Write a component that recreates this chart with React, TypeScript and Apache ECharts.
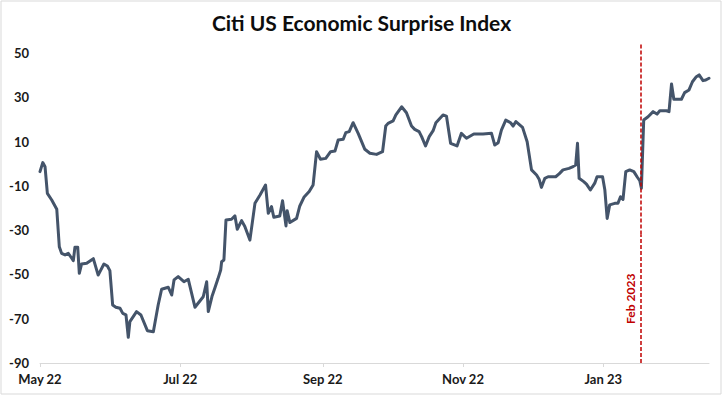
import React, { useEffect, useRef } from "react";
import * as echarts from "echarts";

// Day offsets from 1 May 2022 and index values
const dayOffsets = [
  0, 1.2, 2.2, 3.2, 5.1, 7.3, 8.4, 9.4, 10.9, 12.3,
  13.8, 14.5, 15.2, 16.4, 17.1, 18.1, 20.3, 23.2, 25.3, 27.8,
  29.3, 30.4, 31.6, 33.0, 34.8, 36.0, 37.4, 38.4, 39.1, 42.0,
  43.9, 46.7, 49.3, 51.4, 52.9, 55.8, 57.3, 58.3, 60.1, 62.6,
  64.5, 67.4, 71.0, 72.5, 73.2, 74.8, 76.1, 77.4, 78.6, 79.0,
  80.0, 80.9, 83.3, 84.8, 85.8, 87.7, 89.1, 91.3, 93.5, 95.7,
  98.1, 99.3, 100.7, 101.7, 104.3, 105.5, 107.0, 107.5, 108.7, 111.6,
  113.0, 114.8, 117.1, 118.8, 120.3, 122.0, 124.3, 126.4, 128.3, 129.7,
  131.9, 133.0, 134.5, 136.2, 138.4, 141.3, 143.5, 146.4, 149.0, 150.4,
  151.4, 153.6, 154.8, 157.3, 159.4, 161.6, 163.0, 164.9, 166.0, 167.7,
  169.3, 171.0, 172.2, 175.3, 176.8, 178.6, 181.4, 183.3, 185.5, 188.7,
  192.7, 196.4, 197.8, 199.3, 200.7, 202.6, 204.7, 205.8, 207.0, 209.9,
  211.9, 213.8, 216.0, 217.1, 218.1, 219.6, 221.0, 224.3, 225.8, 227.5,
  230.1, 231.9, 233.0, 233.8, 234.5, 236.5, 237.7, 239.4, 241.3, 242.3,
  244.7, 245.7, 246.7, 247.8, 250.0, 251.4, 252.5, 253.6, 254.8, 256.5,
  258.3, 259.7, 260.9, 261.6, 262.6, 264.5, 266.7, 268.4, 269.6, 272.5,
  273.6, 274.7, 275.7, 279.0, 280.4, 282.3, 283.8, 285.5, 286.7, 288.4,
  289.6, 291.0,
];

const esiValues = [
  -3.6, 0.5, -1.4, -13.4, -16.4, -20.6, -37.5, -40.5, -41.2, -40.5,
  -42.7, -43.8, -37.7, -37.7, -49.5, -45.3, -45.0, -42.9, -50.3, -45.3,
  -46.2, -48.3, -63.8, -64.8, -65.3, -67.6, -68.3, -78.4, -71.3, -66.8,
  -68.3, -75.4, -75.9, -63.8, -56.7, -55.8, -59.3, -52.5, -51.0, -53.3,
  -52.2, -64.8, -60.1, -53.3, -66.8, -60, -56, -52, -48.0, -44.3,
  -43.5, -25.4, -25.1, -23.6, -29.6, -25.7, -28.4, -34.5, -17.9, -14.1,
  -9.6, -22.4, -19.4, -24.2, -23.6, -16.7, -28.1, -21.2, -26.6, -24.7,
  -19.1, -15.2, -12.6, -9.6, 5.4, 2.0, 2.4, 5.4, 5.7, 10.7,
  11.0, 14.0, 14.5, 18.5, 13.7, 6.5, 4.7, 4.2, 5.4, 17.0,
  18.2, 19.3, 22.0, 25.7, 23.0, 17.0, 15.5, 14.5, 12.2, 8.0,
  12.2, 14.9, 18.5, 22.0, 21.5, 9.2, 8.0, 13.7, 11.5, 13.4,
  13.4, 13.7, 8.4, 9.5, 15.2, 19.7, 18.5, 17.0, 19.0, 16.4,
  9.9, -2.8, -5.1, -7.0, -10.7, -6.6, -5.9, -5.9, -4.6, -2.8,
  -2.1, -1.3, -0.6, 9.2, -6.6, -8.1, -9.2, -11.9, -8.8, -5.9,
  -5.9, -11.9, -24.7, -18.6, -17.9, -17.9, -14.9, -16.1, -3.6, -2.8,
  -3.6, -5.9, -7.7, -11.1, 19.7, 21.2, 23.5, 22.4, 23.9, 23.9,
  23.5, 36.0, 29.1, 29.1, 32.1, 33.3, 37.0, 39.3, 40.1, 37.5,
  37.8, 38.6,
];

const xTickDays = [0, 61, 123, 184, 245];
const xTickLabels = ["May 22", "Jul 22", "Sep 22", "Nov 22", "Jan 23"];
const yTickValues = [-90, -70, -50, -30, -10, 10, 30, 50];
const yMin = -90;
const yMax = 54.5;
const markerDay = 261.2;
const markerLabel = "Feb 2023";
const markerSplit = -32;
const markerTop = 54.5;

const FONT = "Lato, 'Open Sans', sans-serif";

export default function App() {
  const ref = useRef<HTMLDivElement>(null);

  useEffect(() => {
    if (!ref.current) return;
    const chart = echarts.init(ref.current, null, { renderer: "svg" });
    const seriesData = dayOffsets.map((d, i) => [d, esiValues[i]]);
    const labelMap: Record<number, string> = {};
    xTickDays.forEach((d, i) => (labelMap[d] = xTickLabels[i]));

    chart.setOption({
      animation: false,
      backgroundColor: "#ffffff",
      title: {
        text: "Citi US Economic Surprise Index",
        left: "center",
        top: 7,
        textStyle: {
          fontFamily: FONT,
          fontSize: 21,
          fontWeight: "bold",
          color: "#0d0d0d",
        },
      },
      graphic: [
        {
          type: "rect",
          shape: { x: 1, y: 1, width: 720, height: 393 },
          style: { fill: "none", stroke: "#d9d9d9", lineWidth: 1 },
          silent: true,
        },
      ],
      grid: { left: 40, right: 14, top: 43, bottom: 34 },
      xAxis: {
        type: "value",
        min: 0,
        max: 291,
        splitLine: { show: false },
        axisLine: {
          show: true,
          onZero: false,
          lineStyle: { color: "#d9d9d9", width: 1 },
        },
        axisTick: {
          show: true,
          length: 4,
          customValues: xTickDays,
          lineStyle: { color: "#d9d9d9" },
        },
        axisLabel: {
          customValues: xTickDays,
          formatter: (v: number) => labelMap[v] ?? "",
          fontFamily: FONT,
          fontSize: 13,
          fontWeight: "bold",
          color: "#1a1a1a",
          margin: 9,
        },
      },
      yAxis: {
        type: "value",
        min: yMin,
        max: yMax,
        splitLine: { show: false },
        axisLine: { show: false },
        axisTick: { show: false },
        axisLabel: {
          customValues: yTickValues,
          fontFamily: FONT,
          fontSize: 13,
          fontWeight: "bold",
          color: "#1a1a1a",
          margin: 11,
        },
      },
      series: [
        {
          type: "line",
          data: seriesData,
          showSymbol: false,
          symbol: "none",
          lineStyle: { color: "#44546A", width: 3, join: "round", cap: "round" },
          markLine: {
            silent: true,
            symbol: "none",
            lineStyle: { color: "#C00000", width: 1.5, type: [4, 2] },
            data: [
              [
                {
                  coord: [markerDay, yMin],
                  label: {
                    show: true,
                    formatter: markerLabel,
                    position: "insideMiddleTop",
                    distance: 4,
                    color: "#C00000",
                    fontFamily: FONT,
                    fontSize: 12,
                    fontWeight: "bold",
                  },
                },
                { coord: [markerDay, markerSplit] },
              ],
              [
                { coord: [markerDay, markerSplit], label: { show: false } },
                { coord: [markerDay, markerTop] },
              ],
            ],
          },
        },
      ],
    });
    return () => chart.dispose();
  }, []);

  return (
    <div
      ref={ref}
      style={{ position: "fixed", left: 0, top: 0, width: 723, height: 397 }}
    />
  );
}
